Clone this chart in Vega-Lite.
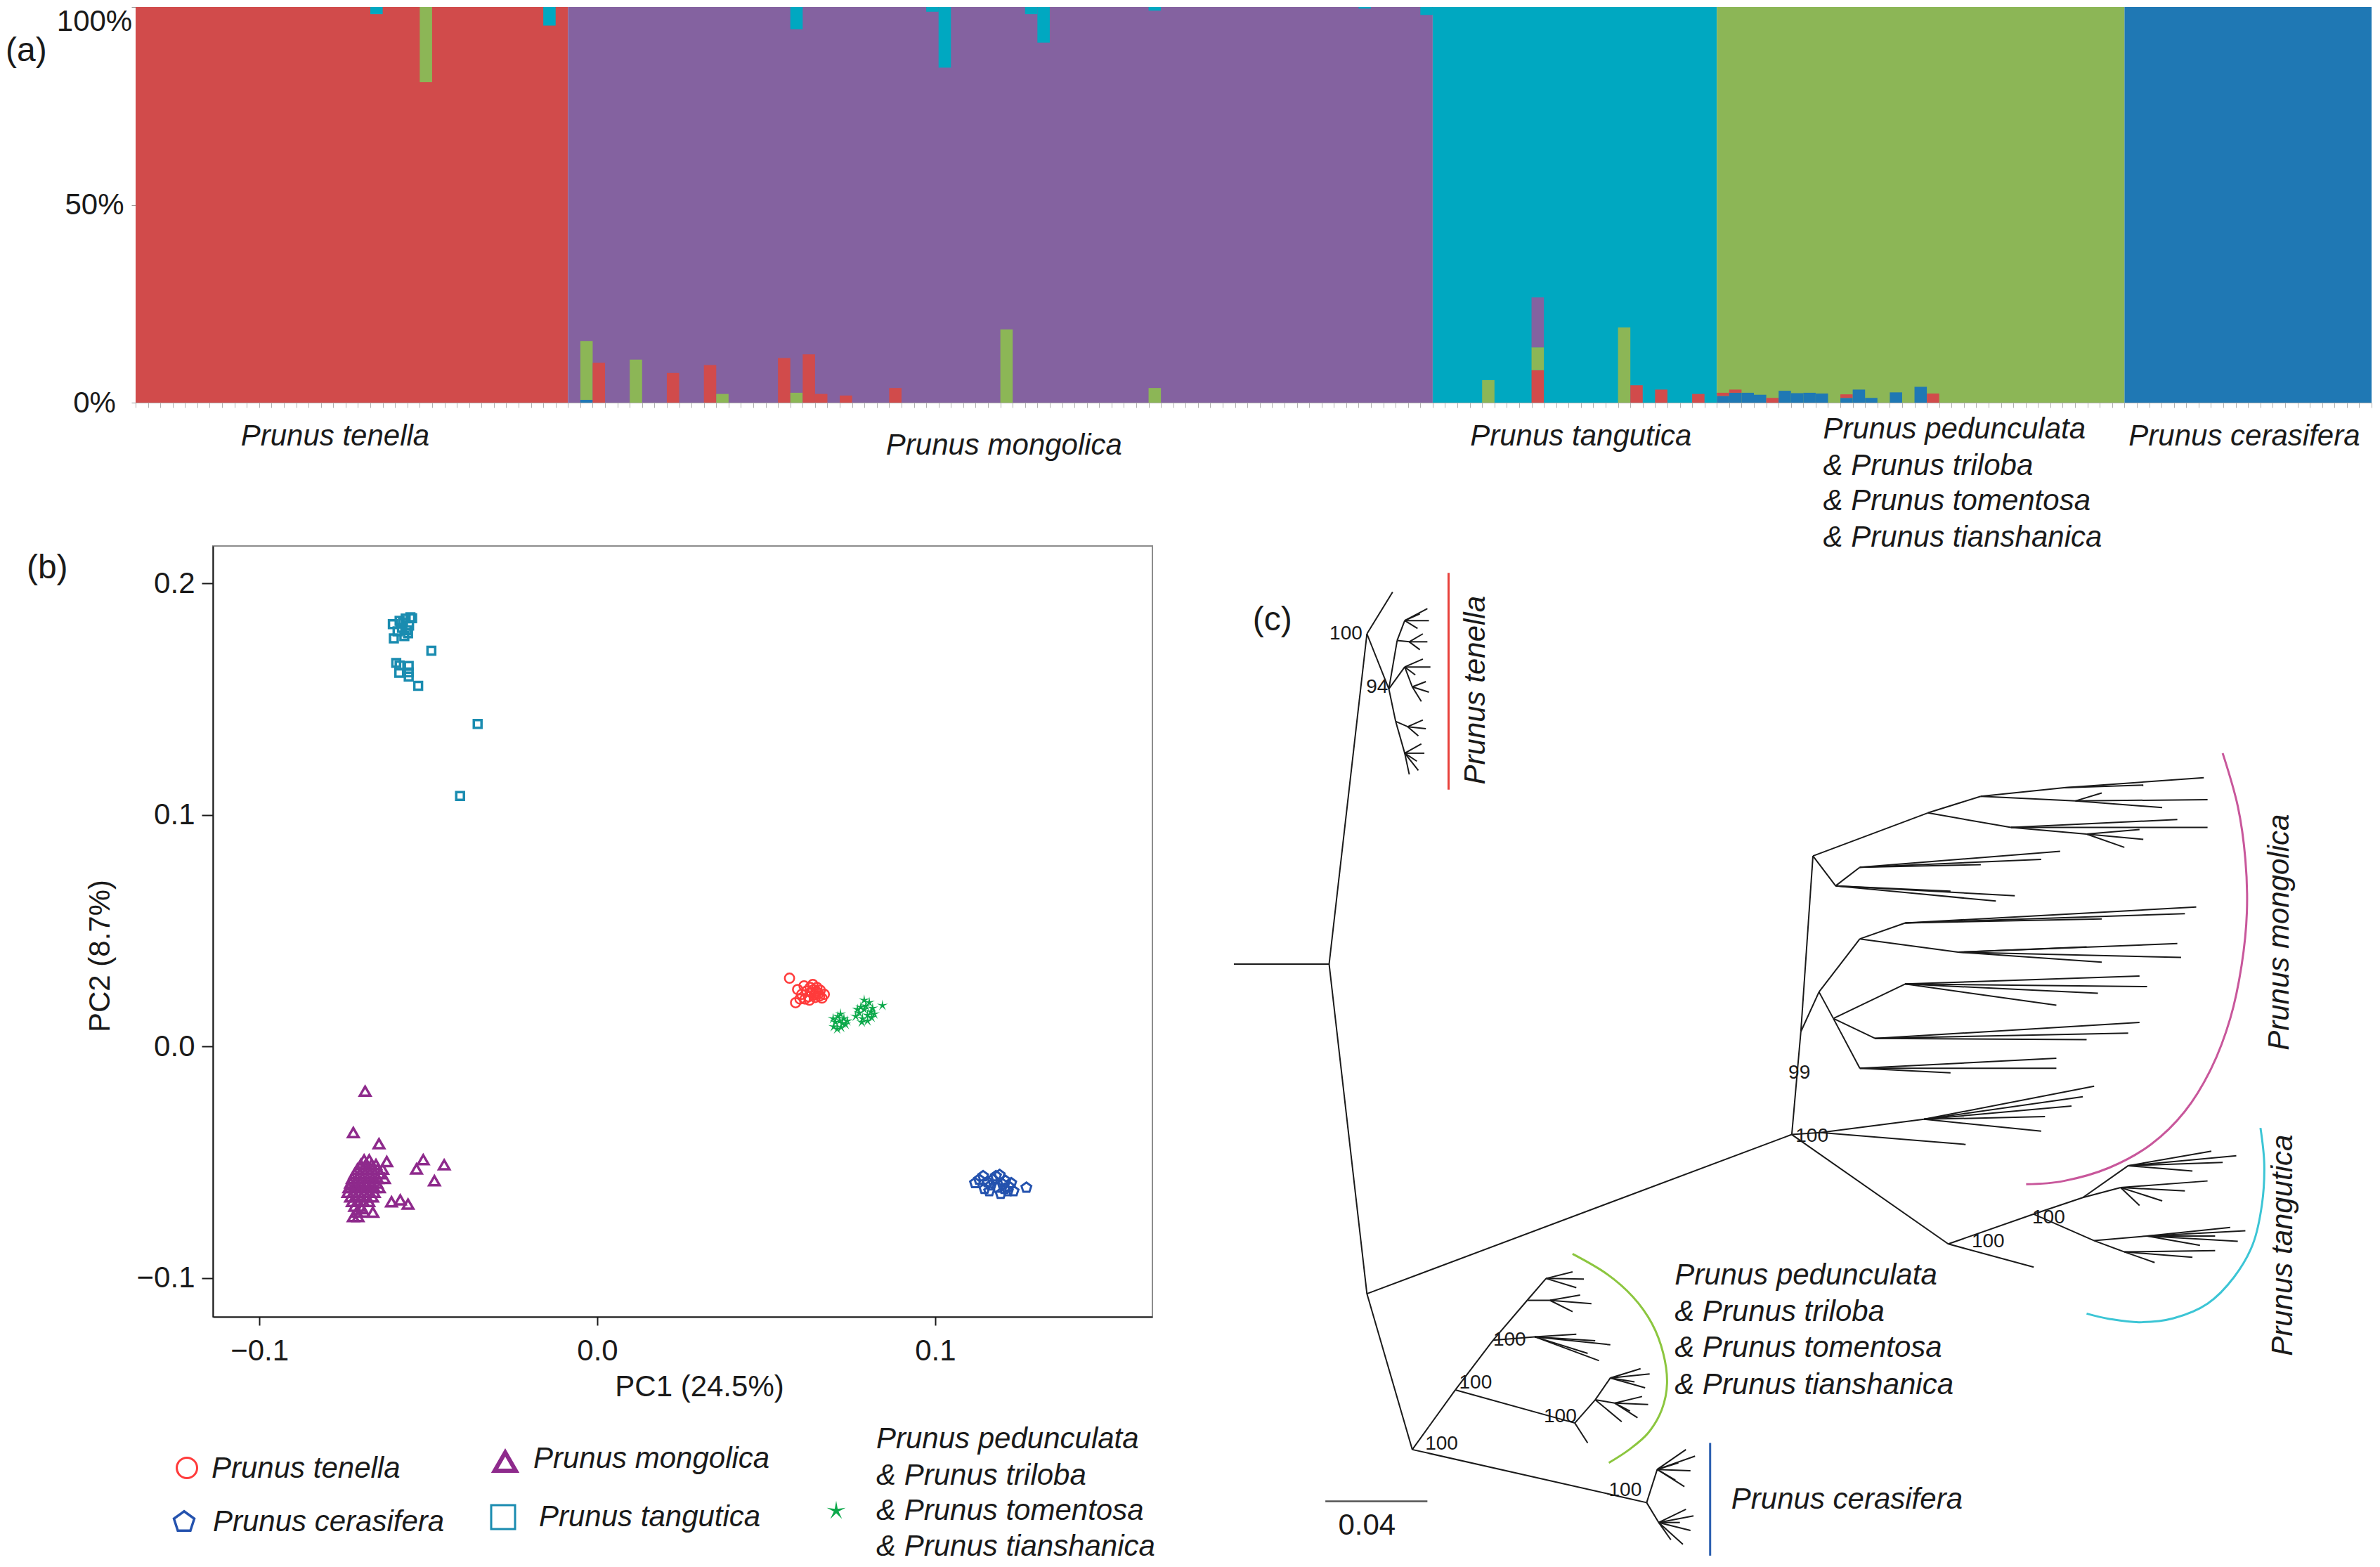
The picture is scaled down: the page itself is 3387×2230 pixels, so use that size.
{
"$schema": "https://vega.github.io/schema/vega-lite/v6.json",
"background": "white",
"padding": {"left": 8, "top": 9, "right": 0, "bottom": 0},
"config": {
  "font": "Liberation Sans",
  "view": {"stroke": null},
  "axis": {"grid": false, "titleFontWeight": "normal", "labelColor": "#1a1a1a", "titleColor": "#1a1a1a", "labelFont": "Liberation Sans", "titleFont": "Liberation Sans"},
  "text": {"color": "#1a1a1a"}
},
"datasets": {
  "structure": [
    {"start":0,"end":35,"lo":0,"hi":1,"cluster":"K1"},
    {"start":35,"end":105,"lo":0,"hi":1,"cluster":"K2"},
    {"start":105,"end":128,"lo":0,"hi":1,"cluster":"K3"},
    {"start":128,"end":161,"lo":0,"hi":1,"cluster":"K4"},
    {"start":161,"end":181,"lo":0,"hi":1,"cluster":"K5"},
    {"start":19,"end":20,"lo":0.982,"hi":1,"cluster":"K3"},
    {"start":23,"end":24,"lo":0.81,"hi":1,"cluster":"K4"},
    {"start":33,"end":34,"lo":0.953,"hi":1,"cluster":"K3"},
    {"start":36,"end":37,"lo":0,"hi":0.007,"cluster":"K5"},
    {"start":36,"end":37,"lo":0.007,"hi":0.156,"cluster":"K4"},
    {"start":37,"end":38,"lo":0,"hi":0.101,"cluster":"K1"},
    {"start":40,"end":41,"lo":0,"hi":0.109,"cluster":"K4"},
    {"start":43,"end":44,"lo":0,"hi":0.075,"cluster":"K1"},
    {"start":46,"end":47,"lo":0,"hi":0.095,"cluster":"K1"},
    {"start":47,"end":48,"lo":0,"hi":0.022,"cluster":"K4"},
    {"start":52,"end":53,"lo":0,"hi":0.113,"cluster":"K1"},
    {"start":53,"end":54,"lo":0,"hi":0.025,"cluster":"K4"},
    {"start":53,"end":54,"lo":0.944,"hi":1,"cluster":"K3"},
    {"start":54,"end":55,"lo":0,"hi":0.122,"cluster":"K1"},
    {"start":55,"end":56,"lo":0,"hi":0.022,"cluster":"K1"},
    {"start":57,"end":58,"lo":0,"hi":0.018,"cluster":"K1"},
    {"start":61,"end":62,"lo":0,"hi":0.037,"cluster":"K1"},
    {"start":64,"end":65,"lo":0.988,"hi":1,"cluster":"K3"},
    {"start":65,"end":66,"lo":0.847,"hi":1,"cluster":"K3"},
    {"start":70,"end":71,"lo":0,"hi":0.185,"cluster":"K4"},
    {"start":72,"end":73,"lo":0.982,"hi":1,"cluster":"K3"},
    {"start":73,"end":74,"lo":0.91,"hi":1,"cluster":"K3"},
    {"start":82,"end":83,"lo":0,"hi":0.037,"cluster":"K4"},
    {"start":82,"end":83,"lo":0.991,"hi":1,"cluster":"K3"},
    {"start":99,"end":100,"lo":0.996,"hi":1,"cluster":"K3"},
    {"start":104,"end":105,"lo":0.98,"hi":1,"cluster":"K3"},
    {"start":109,"end":110,"lo":0,"hi":0.057,"cluster":"K4"},
    {"start":113,"end":114,"lo":0,"hi":0.082,"cluster":"K1"},
    {"start":113,"end":114,"lo":0.082,"hi":0.14,"cluster":"K4"},
    {"start":113,"end":114,"lo":0.14,"hi":0.266,"cluster":"K2"},
    {"start":120,"end":121,"lo":0,"hi":0.19,"cluster":"K4"},
    {"start":121,"end":122,"lo":0,"hi":0.044,"cluster":"K1"},
    {"start":123,"end":124,"lo":0,"hi":0.033,"cluster":"K1"},
    {"start":126,"end":127,"lo":0,"hi":0.022,"cluster":"K1"},
    {"start":128,"end":129,"lo":0,"hi":0.017,"cluster":"K5"},
    {"start":128,"end":129,"lo":0.017,"hi":0.025,"cluster":"K1"},
    {"start":129,"end":130,"lo":0,"hi":0.025,"cluster":"K5"},
    {"start":129,"end":130,"lo":0.025,"hi":0.033,"cluster":"K1"},
    {"start":130,"end":131,"lo":0,"hi":0.025,"cluster":"K5"},
    {"start":131,"end":132,"lo":0,"hi":0.02,"cluster":"K5"},
    {"start":132,"end":133,"lo":0,"hi":0.012,"cluster":"K1"},
    {"start":133,"end":134,"lo":0,"hi":0.03,"cluster":"K5"},
    {"start":134,"end":135,"lo":0,"hi":0.024,"cluster":"K5"},
    {"start":135,"end":136,"lo":0,"hi":0.025,"cluster":"K5"},
    {"start":136,"end":137,"lo":0,"hi":0.023,"cluster":"K5"},
    {"start":138,"end":139,"lo":0,"hi":0.012,"cluster":"K5"},
    {"start":138,"end":139,"lo":0.012,"hi":0.021,"cluster":"K1"},
    {"start":139,"end":140,"lo":0,"hi":0.033,"cluster":"K5"},
    {"start":140,"end":141,"lo":0,"hi":0.012,"cluster":"K5"},
    {"start":142,"end":143,"lo":0,"hi":0.026,"cluster":"K5"},
    {"start":144,"end":145,"lo":0,"hi":0.04,"cluster":"K5"},
    {"start":145,"end":146,"lo":0,"hi":0.023,"cluster":"K1"}
  ],
  "slab": [
    {"t":"Prunus tenella","start":16.15,"lo":-0.0853,"kind":"c"},
    {"t":"Prunus mongolica","start":70.3,"lo":-0.1083,"kind":"c"},
    {"t":"Prunus tangutica","start":117.0,"lo":-0.0853,"kind":"c"},
    {"t":"Prunus cerasifera","start":170.7,"lo":-0.0853,"kind":"c"},
    {"t":"Prunus pedunculata","start":136.6,"lo":-0.0675,"kind":"l"},
    {"t":"& Prunus triloba","start":136.6,"lo":-0.1599,"kind":"l"},
    {"t":"& Prunus tomentosa","start":136.6,"lo":-0.2487,"kind":"l"},
    {"t":"& Prunus tianshanica","start":136.6,"lo":-0.3410,"kind":"l"},
    {"t":"(a)","start":-10.52,"lo":0.888,"kind":"p"}
  ],
  "pca": [
    {"sp":"tan","pc1":-0.0553,"pc2":0.1854},{"sp":"tan","pc1":-0.0567,"pc2":0.1849},{"sp":"tan","pc1":-0.0585,"pc2":0.1839},
    {"sp":"tan","pc1":-0.0605,"pc2":0.1824},{"sp":"tan","pc1":-0.0557,"pc2":0.1818},{"sp":"tan","pc1":-0.0578,"pc2":0.1808},
    {"sp":"tan","pc1":-0.0564,"pc2":0.1798},{"sp":"tan","pc1":-0.0591,"pc2":0.1793},{"sp":"tan","pc1":-0.0571,"pc2":0.1773},
    {"sp":"tan","pc1":-0.0602,"pc2":0.1763},{"sp":"tan","pc1":-0.0491,"pc2":0.1710},{"sp":"tan","pc1":-0.0595,"pc2":0.1657},
    {"sp":"tan","pc1":-0.0585,"pc2":0.1646},{"sp":"tan","pc1":-0.0558,"pc2":0.1644},{"sp":"tan","pc1":-0.0558,"pc2":0.1616},
    {"sp":"tan","pc1":-0.0586,"pc2":0.1614},{"sp":"tan","pc1":-0.0558,"pc2":0.1598},{"sp":"tan","pc1":-0.0530,"pc2":0.1558},
    {"sp":"tan","pc1":-0.0354,"pc2":0.1393},{"sp":"tan","pc1":-0.0406,"pc2":0.1082},{"sp":"tan","pc1":-0.0575,"pc2":0.1830},
    {"sp":"tan","pc1":-0.0560,"pc2":0.1785},{"sp":"tan","pc1":-0.0548,"pc2":0.1850},
    {"sp":"mon","pc1":-0.0687,"pc2":-0.0193},{"sp":"mon","pc1":-0.0722,"pc2":-0.0372},{"sp":"mon","pc1":-0.0646,"pc2":-0.0420},
    {"sp":"mon","pc1":-0.0623,"pc2":-0.0497},{"sp":"mon","pc1":-0.0515,"pc2":-0.0489},{"sp":"mon","pc1":-0.0535,"pc2":-0.0529},
    {"sp":"mon","pc1":-0.0453,"pc2":-0.0511},{"sp":"mon","pc1":-0.0482,"pc2":-0.0580},{"sp":"mon","pc1":-0.0609,"pc2":-0.0671},
    {"sp":"mon","pc1":-0.0583,"pc2":-0.0663},{"sp":"mon","pc1":-0.0560,"pc2":-0.0681},{"sp":"mon","pc1":-0.0697,"pc2":-0.0701},
    {"sp":"mon","pc1":-0.0664,"pc2":-0.0716},
    {"sp":"mon","pc1":-0.0690,"pc2":-0.049},{"sp":"mon","pc1":-0.0675,"pc2":-0.049},
    {"sp":"mon","pc1":-0.0700,"pc2":-0.051},{"sp":"mon","pc1":-0.0685,"pc2":-0.051},{"sp":"mon","pc1":-0.0668,"pc2":-0.051},{"sp":"mon","pc1":-0.0655,"pc2":-0.051},
    {"sp":"mon","pc1":-0.0710,"pc2":-0.053},{"sp":"mon","pc1":-0.0695,"pc2":-0.053},{"sp":"mon","pc1":-0.0680,"pc2":-0.053},{"sp":"mon","pc1":-0.0665,"pc2":-0.053},{"sp":"mon","pc1":-0.0650,"pc2":-0.053},{"sp":"mon","pc1":-0.0635,"pc2":-0.053},
    {"sp":"mon","pc1":-0.0718,"pc2":-0.055},{"sp":"mon","pc1":-0.0703,"pc2":-0.055},{"sp":"mon","pc1":-0.0688,"pc2":-0.055},{"sp":"mon","pc1":-0.0673,"pc2":-0.055},{"sp":"mon","pc1":-0.0658,"pc2":-0.055},{"sp":"mon","pc1":-0.0642,"pc2":-0.055},
    {"sp":"mon","pc1":-0.0725,"pc2":-0.057},{"sp":"mon","pc1":-0.0710,"pc2":-0.057},{"sp":"mon","pc1":-0.0695,"pc2":-0.057},{"sp":"mon","pc1":-0.0680,"pc2":-0.057},{"sp":"mon","pc1":-0.0664,"pc2":-0.057},{"sp":"mon","pc1":-0.0650,"pc2":-0.057},{"sp":"mon","pc1":-0.0630,"pc2":-0.057},
    {"sp":"mon","pc1":-0.0730,"pc2":-0.059},{"sp":"mon","pc1":-0.0715,"pc2":-0.059},{"sp":"mon","pc1":-0.0700,"pc2":-0.059},{"sp":"mon","pc1":-0.0684,"pc2":-0.059},{"sp":"mon","pc1":-0.0668,"pc2":-0.059},{"sp":"mon","pc1":-0.0652,"pc2":-0.059},
    {"sp":"mon","pc1":-0.0735,"pc2":-0.061},{"sp":"mon","pc1":-0.0720,"pc2":-0.061},{"sp":"mon","pc1":-0.0705,"pc2":-0.061},{"sp":"mon","pc1":-0.0690,"pc2":-0.061},{"sp":"mon","pc1":-0.0674,"pc2":-0.061},{"sp":"mon","pc1":-0.0660,"pc2":-0.061},{"sp":"mon","pc1":-0.0645,"pc2":-0.061},
    {"sp":"mon","pc1":-0.0738,"pc2":-0.063},{"sp":"mon","pc1":-0.0722,"pc2":-0.063},{"sp":"mon","pc1":-0.0706,"pc2":-0.063},{"sp":"mon","pc1":-0.0690,"pc2":-0.063},{"sp":"mon","pc1":-0.0675,"pc2":-0.063},{"sp":"mon","pc1":-0.0660,"pc2":-0.063},
    {"sp":"mon","pc1":-0.0730,"pc2":-0.065},{"sp":"mon","pc1":-0.0714,"pc2":-0.065},{"sp":"mon","pc1":-0.0698,"pc2":-0.065},{"sp":"mon","pc1":-0.0682,"pc2":-0.065},{"sp":"mon","pc1":-0.0665,"pc2":-0.065},
    {"sp":"mon","pc1":-0.0725,"pc2":-0.067},{"sp":"mon","pc1":-0.0708,"pc2":-0.067},{"sp":"mon","pc1":-0.0692,"pc2":-0.067},{"sp":"mon","pc1":-0.0676,"pc2":-0.067},
    {"sp":"mon","pc1":-0.0718,"pc2":-0.069},{"sp":"mon","pc1":-0.0700,"pc2":-0.069},
    {"sp":"mon","pc1":-0.0712,"pc2":-0.0715},{"sp":"mon","pc1":-0.0690,"pc2":-0.0715},
    {"sp":"mon","pc1":-0.0722,"pc2":-0.0735},{"sp":"mon","pc1":-0.0708,"pc2":-0.0735},
    {"sp":"ten","pc1":0.0569,"pc2":0.0295},{"sp":"ten","pc1":0.0587,"pc2":0.0189},{"sp":"ten","pc1":0.0593,"pc2":0.0246},
    {"sp":"ten","pc1":0.0605,"pc2":0.0225},{"sp":"ten","pc1":0.0612,"pc2":0.0262},{"sp":"ten","pc1":0.0620,"pc2":0.0240},
    {"sp":"ten","pc1":0.0625,"pc2":0.0215},{"sp":"ten","pc1":0.0630,"pc2":0.0255},{"sp":"ten","pc1":0.0635,"pc2":0.0232},
    {"sp":"ten","pc1":0.0640,"pc2":0.0245},{"sp":"ten","pc1":0.0642,"pc2":0.0222},{"sp":"ten","pc1":0.0648,"pc2":0.0238},
    {"sp":"ten","pc1":0.0650,"pc2":0.0255},{"sp":"ten","pc1":0.0655,"pc2":0.0228},{"sp":"ten","pc1":0.0660,"pc2":0.0243},
    {"sp":"ten","pc1":0.0665,"pc2":0.0209},{"sp":"ten","pc1":0.0672,"pc2":0.0225},{"sp":"ten","pc1":0.0628,"pc2":0.0200},
    {"sp":"ten","pc1":0.0615,"pc2":0.0205},{"sp":"ten","pc1":0.0645,"pc2":0.0212},{"sp":"ten","pc1":0.0658,"pc2":0.0218},
    {"sp":"ten","pc1":0.0638,"pc2":0.0268},{"sp":"ten","pc1":0.0600,"pc2":0.0205},
    {"sp":"ped","pc1":0.0700,"pc2":0.0085},{"sp":"ped","pc1":0.0710,"pc2":0.0075},{"sp":"ped","pc1":0.0722,"pc2":0.0082},
    {"sp":"ped","pc1":0.0735,"pc2":0.0095},{"sp":"ped","pc1":0.0705,"pc2":0.0105},{"sp":"ped","pc1":0.0718,"pc2":0.0112},
    {"sp":"ped","pc1":0.0730,"pc2":0.0120},{"sp":"ped","pc1":0.0712,"pc2":0.0130},{"sp":"ped","pc1":0.0725,"pc2":0.0100},
    {"sp":"ped","pc1":0.0740,"pc2":0.0110},{"sp":"ped","pc1":0.0698,"pc2":0.0120},{"sp":"ped","pc1":0.0720,"pc2":0.0140},
    {"sp":"ped","pc1":0.0765,"pc2":0.0130},{"sp":"ped","pc1":0.0775,"pc2":0.0145},{"sp":"ped","pc1":0.0785,"pc2":0.0120},
    {"sp":"ped","pc1":0.0790,"pc2":0.0160},{"sp":"ped","pc1":0.0800,"pc2":0.0135},{"sp":"ped","pc1":0.0810,"pc2":0.0150},
    {"sp":"ped","pc1":0.0795,"pc2":0.0175},{"sp":"ped","pc1":0.0805,"pc2":0.0190},{"sp":"ped","pc1":0.0780,"pc2":0.0170},
    {"sp":"ped","pc1":0.0815,"pc2":0.0165},{"sp":"ped","pc1":0.0820,"pc2":0.0140},{"sp":"ped","pc1":0.0770,"pc2":0.0160},
    {"sp":"ped","pc1":0.0800,"pc2":0.0110},{"sp":"ped","pc1":0.0790,"pc2":0.0200},{"sp":"ped","pc1":0.0812,"pc2":0.0125},
    {"sp":"ped","pc1":0.0783,"pc2":0.0105},{"sp":"ped","pc1":0.0844,"pc2":0.0177},
    {"sp":"cer","pc1":0.1118,"pc2":-0.0590},{"sp":"cer","pc1":0.1130,"pc2":-0.0575},{"sp":"cer","pc1":0.1142,"pc2":-0.0560},
    {"sp":"cer","pc1":0.1146,"pc2":-0.0615},{"sp":"cer","pc1":0.1155,"pc2":-0.0585},{"sp":"cer","pc1":0.1165,"pc2":-0.0600},
    {"sp":"cer","pc1":0.1170,"pc2":-0.0575},{"sp":"cer","pc1":0.1180,"pc2":-0.0560},{"sp":"cer","pc1":0.1191,"pc2":-0.0555},
    {"sp":"cer","pc1":0.1185,"pc2":-0.0610},{"sp":"cer","pc1":0.1194,"pc2":-0.0636},{"sp":"cer","pc1":0.1200,"pc2":-0.0595},
    {"sp":"cer","pc1":0.1208,"pc2":-0.0580},{"sp":"cer","pc1":0.1215,"pc2":-0.0625},{"sp":"cer","pc1":0.1218,"pc2":-0.0605},
    {"sp":"cer","pc1":0.1225,"pc2":-0.0590},{"sp":"cer","pc1":0.1232,"pc2":-0.0625},{"sp":"cer","pc1":0.1270,"pc2":-0.0610},
    {"sp":"cer","pc1":0.1160,"pc2":-0.0625},{"sp":"cer","pc1":0.1205,"pc2":-0.0615}
  ],
  "plab": [{"t":"(b)","pc1":-0.16888,"pc2":0.2064}],
  "legsym": [
    {"sp":"ten","lx":266,"ly":2089},
    {"sp":"cer","lx":262,"ly":2166},
    {"sp":"mon","lx":719,"ly":2080},
    {"sp":"tan","lx":716,"ly":2159},
    {"sp":"ped","lx":1190,"ly":2150}
  ],
  "legtxt": [
    {"t":"Prunus tenella","lx":301,"ly":2090},
    {"t":"Prunus cerasifera","lx":303,"ly":2166},
    {"t":"Prunus mongolica","lx":759,"ly":2076},
    {"t":"Prunus tangutica","lx":767,"ly":2159},
    {"t":"Prunus pedunculata","lx":1247,"ly":2048},
    {"t":"& Prunus triloba","lx":1247,"ly":2100},
    {"t":"& Prunus tomentosa","lx":1247,"ly":2150},
    {"t":"& Prunus tianshanica","lx":1247,"ly":2201}
  ],
  "tree": [
    {"tx":52,"ty":658,"tx2":178,"ty2":658},
    {"tx":178,"ty":658,"tx2":228,"ty2":160},
    {"tx":178,"ty":658,"tx2":228,"ty2":1155},
    {"tx":228,"ty":1155,"tx2":790,"ty2":915},
    {"tx":228,"ty":1155,"tx2":288,"ty2":1390},
    {"tx":228,"ty":160,"tx2":262,"ty2":97},
    {"tx":228,"ty":160,"tx2":257,"ty2":243},
    {"tx":257,"ty":243,"tx2":268,"ty2":170},
    {"tx":268,"ty":170,"tx2":278,"ty2":140},
    {"tx":278,"ty":140,"tx2":308,"ty2":122},
    {"tx":278,"ty":140,"tx2":298,"ty2":130},
    {"tx":278,"ty":140,"tx2":310,"ty2":140},
    {"tx":278,"ty":140,"tx2":295,"ty2":152},
    {"tx":268,"ty":170,"tx2":284,"ty2":172},
    {"tx":284,"ty":172,"tx2":302,"ty2":160},
    {"tx":284,"ty":172,"tx2":308,"ty2":172},
    {"tx":284,"ty":172,"tx2":298,"ty2":184},
    {"tx":257,"ty":243,"tx2":278,"ty2":210},
    {"tx":278,"ty":210,"tx2":302,"ty2":198},
    {"tx":278,"ty":210,"tx2":312,"ty2":210},
    {"tx":278,"ty":210,"tx2":292,"ty2":222},
    {"tx":278,"ty":210,"tx2":288,"ty2":240},
    {"tx":288,"ty":240,"tx2":306,"ty2":232},
    {"tx":288,"ty":240,"tx2":310,"ty2":248},
    {"tx":288,"ty":240,"tx2":300,"ty2":262},
    {"tx":257,"ty":243,"tx2":266,"ty2":292},
    {"tx":266,"ty":292,"tx2":282,"ty2":300},
    {"tx":282,"ty":300,"tx2":302,"ty2":290},
    {"tx":282,"ty":300,"tx2":306,"ty2":303},
    {"tx":282,"ty":300,"tx2":296,"ty2":314},
    {"tx":266,"ty":292,"tx2":278,"ty2":340},
    {"tx":278,"ty":340,"tx2":300,"ty2":326},
    {"tx":278,"ty":340,"tx2":304,"ty2":340},
    {"tx":278,"ty":340,"tx2":294,"ty2":352},
    {"tx":278,"ty":340,"tx2":296,"ty2":366},
    {"tx":278,"ty":340,"tx2":284,"ty2":372},
    {"tx":790,"ty":915,"tx2":802,"ty2":760},
    {"tx":802,"ty":760,"tx2":818,"ty2":495},
    {"tx":802,"ty":760,"tx2":826,"ty2":700},
    {"tx":790,"ty":915,"tx2":828,"ty2":912},
    {"tx":818,"ty":495,"tx2":848,"ty2":540},
    {"tx":848,"ty":540,"tx2":880,"ty2":512},
    {"tx":880,"ty":512,"tx2":1145,"ty2":488},
    {"tx":880,"ty":512,"tx2":1120,"ty2":500},
    {"tx":880,"ty":512,"tx2":1040,"ty2":508},
    {"tx":848,"ty":540,"tx2":1085,"ty2":555},
    {"tx":848,"ty":540,"tx2":1000,"ty2":548},
    {"tx":848,"ty":540,"tx2":1060,"ty2":563},
    {"tx":818,"ty":495,"tx2":970,"ty2":430},
    {"tx":970,"ty":430,"tx2":1040,"ty2":405},
    {"tx":1040,"ty":405,"tx2":1150,"ty2":392},
    {"tx":1150,"ty":392,"tx2":1335,"ty2":377},
    {"tx":1150,"ty":392,"tx2":1255,"ty2":388},
    {"tx":1040,"ty":405,"tx2":1165,"ty2":412},
    {"tx":1165,"ty":412,"tx2":1340,"ty2":410},
    {"tx":1165,"ty":412,"tx2":1280,"ty2":422},
    {"tx":1165,"ty":412,"tx2":1200,"ty2":400},
    {"tx":970,"ty":430,"tx2":1080,"ty2":452},
    {"tx":1080,"ty":452,"tx2":1300,"ty2":440},
    {"tx":1080,"ty":452,"tx2":1340,"ty2":452},
    {"tx":1080,"ty":452,"tx2":1180,"ty2":462},
    {"tx":1180,"ty":462,"tx2":1255,"ty2":470},
    {"tx":1180,"ty":462,"tx2":1230,"ty2":482},
    {"tx":1180,"ty":462,"tx2":1250,"ty2":455},
    {"tx":826,"ty":700,"tx2":880,"ty2":620},
    {"tx":880,"ty":620,"tx2":940,"ty2":596},
    {"tx":940,"ty":596,"tx2":1325,"ty2":572},
    {"tx":940,"ty":596,"tx2":1310,"ty2":582},
    {"tx":940,"ty":596,"tx2":1200,"ty2":590},
    {"tx":880,"ty":620,"tx2":1010,"ty2":640},
    {"tx":1010,"ty":640,"tx2":1300,"ty2":627},
    {"tx":1010,"ty":640,"tx2":1305,"ty2":648},
    {"tx":1010,"ty":640,"tx2":1180,"ty2":632},
    {"tx":1010,"ty":640,"tx2":1200,"ty2":655},
    {"tx":826,"ty":700,"tx2":845,"ty2":740},
    {"tx":845,"ty":740,"tx2":940,"ty2":688},
    {"tx":940,"ty":688,"tx2":1250,"ty2":676},
    {"tx":940,"ty":688,"tx2":1260,"ty2":692},
    {"tx":940,"ty":688,"tx2":1140,"ty2":720},
    {"tx":940,"ty":688,"tx2":1195,"ty2":702},
    {"tx":845,"ty":740,"tx2":900,"ty2":770},
    {"tx":900,"ty":770,"tx2":1250,"ty2":746},
    {"tx":900,"ty":770,"tx2":1235,"ty2":762},
    {"tx":900,"ty":770,"tx2":1180,"ty2":772},
    {"tx":845,"ty":740,"tx2":880,"ty2":815},
    {"tx":880,"ty":815,"tx2":1140,"ty2":800},
    {"tx":880,"ty":815,"tx2":1140,"ty2":815},
    {"tx":880,"ty":815,"tx2":1000,"ty2":822},
    {"tx":828,"ty":912,"tx2":965,"ty2":892},
    {"tx":965,"ty":892,"tx2":1190,"ty2":842},
    {"tx":965,"ty":892,"tx2":1175,"ty2":858},
    {"tx":965,"ty":892,"tx2":1160,"ty2":872},
    {"tx":965,"ty":892,"tx2":1125,"ty2":888},
    {"tx":965,"ty":892,"tx2":1120,"ty2":910},
    {"tx":828,"ty":912,"tx2":1020,"ty2":930},
    {"tx":790,"ty":915,"tx2":997,"ty2":1080},
    {"tx":997,"ty":1080,"tx2":1110,"ty2":1115},
    {"tx":997,"ty":1080,"tx2":1110,"ty2":1035},
    {"tx":1110,"ty":1035,"tx2":1175,"ty2":1010},
    {"tx":1175,"ty":1010,"tx2":1235,"ty2":962},
    {"tx":1235,"ty":962,"tx2":1345,"ty2":940},
    {"tx":1235,"ty":962,"tx2":1378,"ty2":947},
    {"tx":1235,"ty":962,"tx2":1360,"ty2":957},
    {"tx":1235,"ty":962,"tx2":1320,"ty2":970},
    {"tx":1175,"ty":1010,"tx2":1225,"ty2":995},
    {"tx":1225,"ty":995,"tx2":1340,"ty2":985},
    {"tx":1225,"ty":995,"tx2":1310,"ty2":1000},
    {"tx":1225,"ty":995,"tx2":1280,"ty2":1015},
    {"tx":1225,"ty":995,"tx2":1250,"ty2":1022},
    {"tx":1110,"ty":1035,"tx2":1190,"ty2":1075},
    {"tx":1190,"ty":1075,"tx2":1260,"ty2":1068},
    {"tx":1260,"ty":1068,"tx2":1370,"ty2":1055},
    {"tx":1260,"ty":1068,"tx2":1390,"ty2":1060},
    {"tx":1260,"ty":1068,"tx2":1350,"ty2":1068},
    {"tx":1260,"ty":1068,"tx2":1380,"ty2":1076},
    {"tx":1260,"ty":1068,"tx2":1330,"ty2":1082},
    {"tx":1190,"ty":1075,"tx2":1230,"ty2":1092},
    {"tx":1230,"ty":1092,"tx2":1350,"ty2":1090},
    {"tx":1230,"ty":1092,"tx2":1320,"ty2":1100},
    {"tx":1230,"ty":1092,"tx2":1270,"ty2":1108},
    {"tx":288,"ty":1390,"tx2":345,"ty2":1300},
    {"tx":345,"ty":1300,"tx2":395,"ty2":1225},
    {"tx":395,"ty":1225,"tx2":440,"ty2":1165},
    {"tx":440,"ty":1165,"tx2":465,"ty2":1132},
    {"tx":465,"ty":1132,"tx2":500,"ty2":1122},
    {"tx":465,"ty":1132,"tx2":515,"ty2":1133},
    {"tx":465,"ty":1132,"tx2":505,"ty2":1146},
    {"tx":440,"ty":1165,"tx2":470,"ty2":1165},
    {"tx":470,"ty":1165,"tx2":510,"ty2":1157},
    {"tx":470,"ty":1165,"tx2":525,"ty2":1170},
    {"tx":470,"ty":1165,"tx2":500,"ty2":1182},
    {"tx":395,"ty":1225,"tx2":450,"ty2":1220},
    {"tx":450,"ty":1220,"tx2":505,"ty2":1216},
    {"tx":450,"ty":1220,"tx2":530,"ty2":1226},
    {"tx":450,"ty":1220,"tx2":550,"ty2":1232},
    {"tx":450,"ty":1220,"tx2":520,"ty2":1245},
    {"tx":450,"ty":1220,"tx2":535,"ty2":1256},
    {"tx":345,"ty":1300,"tx2":503,"ty2":1350},
    {"tx":503,"ty":1350,"tx2":520,"ty2":1380},
    {"tx":503,"ty":1350,"tx2":530,"ty2":1315},
    {"tx":530,"ty":1315,"tx2":550,"ty2":1282},
    {"tx":550,"ty":1282,"tx2":590,"ty2":1268},
    {"tx":550,"ty":1282,"tx2":602,"ty2":1276},
    {"tx":550,"ty":1282,"tx2":582,"ty2":1288},
    {"tx":550,"ty":1282,"tx2":596,"ty2":1297},
    {"tx":530,"ty":1315,"tx2":556,"ty2":1320},
    {"tx":556,"ty":1320,"tx2":592,"ty2":1310},
    {"tx":556,"ty":1320,"tx2":600,"ty2":1322},
    {"tx":556,"ty":1320,"tx2":576,"ty2":1332},
    {"tx":556,"ty":1320,"tx2":586,"ty2":1342},
    {"tx":530,"ty":1315,"tx2":565,"ty2":1348},
    {"tx":288,"ty":1390,"tx2":598,"ty2":1470},
    {"tx":598,"ty":1470,"tx2":612,"ty2":1420},
    {"tx":612,"ty":1420,"tx2":650,"ty2":1390},
    {"tx":612,"ty":1420,"tx2":662,"ty2":1400},
    {"tx":612,"ty":1420,"tx2":640,"ty2":1410},
    {"tx":612,"ty":1420,"tx2":656,"ty2":1422},
    {"tx":612,"ty":1420,"tx2":636,"ty2":1436},
    {"tx":612,"ty":1420,"tx2":648,"ty2":1446},
    {"tx":598,"ty":1470,"tx2":614,"ty2":1500},
    {"tx":614,"ty":1500,"tx2":650,"ty2":1480},
    {"tx":614,"ty":1500,"tx2":660,"ty2":1490},
    {"tx":614,"ty":1500,"tx2":642,"ty2":1500},
    {"tx":614,"ty":1500,"tx2":656,"ty2":1512},
    {"tx":614,"ty":1500,"tx2":630,"ty2":1526},
    {"tx":614,"ty":1500,"tx2":646,"ty2":1533}
  ],
  "arcs": [
    {"clade":"mon","o":0,"tx":1360,"ty":340},{"clade":"mon","o":1,"tx":1380,"ty":420},{"clade":"mon","o":2,"tx":1390,"ty":500},
    {"clade":"mon","o":3,"tx":1392,"ty":580},{"clade":"mon","o":4,"tx":1385,"ty":660},{"clade":"mon","o":5,"tx":1370,"ty":740},
    {"clade":"mon","o":6,"tx":1345,"ty":815},{"clade":"mon","o":7,"tx":1310,"ty":880},{"clade":"mon","o":8,"tx":1265,"ty":930},
    {"clade":"mon","o":9,"tx":1210,"ty":965},{"clade":"mon","o":10,"tx":1150,"ty":985},{"clade":"mon","o":11,"tx":1100,"ty":990},
    {"clade":"tan","o":0,"tx":1410,"ty":905},{"clade":"tan","o":1,"tx":1415,"ty":960},{"clade":"tan","o":2,"tx":1412,"ty":1020},
    {"clade":"tan","o":3,"tx":1400,"ty":1080},{"clade":"tan","o":4,"tx":1375,"ty":1130},{"clade":"tan","o":5,"tx":1340,"ty":1170},
    {"clade":"tan","o":6,"tx":1295,"ty":1192},{"clade":"tan","o":7,"tx":1250,"ty":1198},{"clade":"tan","o":8,"tx":1210,"ty":1193},
    {"clade":"tan","o":9,"tx":1180,"ty":1185},
    {"clade":"ped","o":0,"tx":500,"ty":1095},{"clade":"ped","o":1,"tx":545,"ty":1125},{"clade":"ped","o":2,"tx":580,"ty":1160},
    {"clade":"ped","o":3,"tx":605,"ty":1200},{"clade":"ped","o":4,"tx":620,"ty":1245},{"clade":"ped","o":5,"tx":625,"ty":1290},
    {"clade":"ped","o":6,"tx":618,"ty":1330},{"clade":"ped","o":7,"tx":600,"ty":1365},{"clade":"ped","o":8,"tx":575,"ty":1390},
    {"clade":"ped","o":9,"tx":548,"ty":1410}
  ],
  "cbars": [
    {"clade":"ten","tx":336,"ty":68,"tx2":336,"ty2":395},
    {"clade":"cer","tx":682,"ty":1380,"tx2":682,"ty2":1550}
  ],
  "sbar": [{"tx":173,"ty":1468,"tx2":308,"ty2":1468}],
  "ttxt": [
    {"t":"Prunus tenella","tx":372,"ty":245,"kind":"rot"},
    {"t":"Prunus mongolica","tx":1435,"ty":610,"kind":"rot"},
    {"t":"Prunus tangutica","tx":1440,"ty":1082,"kind":"rot"},
    {"t":"Prunus pedunculata","tx":635,"ty":1127,"kind":"lab"},
    {"t":"& Prunus triloba","tx":635,"ty":1182,"kind":"lab"},
    {"t":"& Prunus tomentosa","tx":635,"ty":1237,"kind":"lab"},
    {"t":"& Prunus tianshanica","tx":635,"ty":1293,"kind":"lab"},
    {"t":"Prunus cerasifera","tx":710,"ty":1465,"kind":"lab"},
    {"t":"100","tx":222,"ty":160,"kind":"bsr"},
    {"t":"94","tx":256,"ty":240,"kind":"bsr"},
    {"t":"99","tx":800,"ty":822,"kind":"bsc"},
    {"t":"100","tx":795,"ty":918,"kind":"bsl"},
    {"t":"100","tx":1108,"ty":1040,"kind":"bsl"},
    {"t":"100","tx":1028,"ty":1077,"kind":"bsl"},
    {"t":"100","tx":395,"ty":1225,"kind":"bsl"},
    {"t":"100","tx":350,"ty":1290,"kind":"bsl"},
    {"t":"100","tx":462,"ty":1340,"kind":"bsl"},
    {"t":"100","tx":305,"ty":1382,"kind":"bsl"},
    {"t":"100","tx":548,"ty":1452,"kind":"bsl"},
    {"t":"0.04","tx":228,"ty":1505,"kind":"scale"},
    {"t":"(c)","tx":103,"ty":140,"kind":"panel"}
  ]
},
"columns": 1,
"spacing": -10,
"align": "none",
"resolve": {"scale": {"x": "independent", "y": "independent", "color": "independent", "shape": "independent"}},
"concat": [
  {
    "width": 3072, "height": 563,
    "layer": [
      {"data": {"name": "structure"}, "mark": {"type": "rect"},
       "encoding": {
         "x": {"field": "start", "type": "quantitative", "scale": {"domain": [0,181], "range": [-110, 3072], "nice": false, "zero": false},
               "axis": {"tickCount": 181, "labels": false, "title": null, "tickSize": 7, "tickColor": "#b0b0b0", "domainColor": "#b0b0b0"}},
         "x2": {"field": "end"},
         "y": {"field": "lo", "type": "quantitative", "scale": {"domain": [0,1], "nice": false, "zero": false},
               "axis": {"values": [0,0.5,1], "format": ".0%", "title": null, "offset": 110, "labelFontSize": 42, "labelAlign": "center", "labelPadding": 53, "tickSize": 6, "tickColor": "#999999", "domain": false,
                        "labelBaseline": {"condition": {"test": "datum.value == 1", "value": "top"}, "value": "middle"}}},
         "y2": {"field": "hi"},
         "color": {"field": "cluster", "type": "nominal", "scale": {"domain": ["K1","K2","K3","K4","K5"], "range": ["#d14b4b","#8462a0","#00a8c1","#8cb656","#1f78b4"]}, "legend": null}
       }},
      {"data": {"name": "slab"}, "transform": [{"filter": "datum.kind == 'c'"}],
       "mark": {"type": "text", "fontSize": 42, "fontStyle": "italic", "align": "center", "baseline": "middle"},
       "encoding": {"x": {"field": "start", "type": "quantitative", "scale": {"domain": [0,181], "range": [-110, 3072], "nice": false, "zero": false}},
                    "y": {"field": "lo", "type": "quantitative", "scale": {"domain": [0,1], "nice": false, "zero": false}},
                    "text": {"field": "t"}}},
      {"data": {"name": "slab"}, "transform": [{"filter": "datum.kind == 'l'"}],
       "mark": {"type": "text", "fontSize": 42, "fontStyle": "italic", "align": "left", "baseline": "middle"},
       "encoding": {"x": {"field": "start", "type": "quantitative", "scale": {"domain": [0,181], "range": [-110, 3072], "nice": false, "zero": false}},
                    "y": {"field": "lo", "type": "quantitative", "scale": {"domain": [0,1], "nice": false, "zero": false}},
                    "text": {"field": "t"}}},
      {"data": {"name": "slab"}, "transform": [{"filter": "datum.kind == 'p'"}],
       "mark": {"type": "text", "fontSize": 48, "align": "left", "baseline": "middle"},
       "encoding": {"x": {"field": "start", "type": "quantitative", "scale": {"domain": [0,181], "range": [-110, 3072], "nice": false, "zero": false}},
                    "y": {"field": "lo", "type": "quantitative", "scale": {"domain": [0,1], "nice": false, "zero": false}},
                    "text": {"field": "t"}}}
    ]
  },
  {
    "spacing": 0,
    "resolve": {"scale": {"x": "independent", "y": "independent", "color": "independent", "shape": "independent"}},
    "hconcat": [
      {
        "columns": 1,
        "spacing": 15,
        "align": "none",
        "resolve": {"scale": {"x": "independent", "y": "independent", "color": "independent", "shape": "independent"}},
        "concat": [
          {
            "width": 1337, "height": 1097,
            "view": {"stroke": "#8c8c8c", "strokeWidth": 2},
            "encoding": {
              "x": {"field": "pc1", "type": "quantitative", "scale": {"domain": [-0.11375, 0.1643], "nice": false, "zero": false},
                    "axis": {"values": [-0.1, 0, 0.1], "format": ".1f", "title": "PC1 (24.5%)", "titleFontSize": 42, "labelFontSize": 42, "tickSize": 12, "tickWidth": 2, "tickColor": "#1a1a1a", "domainColor": "#1a1a1a", "domainWidth": 2, "labelPadding": 16, "titlePadding": 10, "titleX": 692}},
              "y": {"field": "pc2", "type": "quantitative", "scale": {"domain": [-0.1168, 0.2162], "nice": false, "zero": false},
                    "axis": {"values": [-0.1, 0, 0.1, 0.2], "format": ".1f", "title": "PC2 (8.7%)", "titleFontSize": 42, "labelFontSize": 42, "tickSize": 16, "tickWidth": 2, "tickColor": "#1a1a1a", "domainColor": "#1a1a1a", "domainWidth": 2, "labelPadding": 10, "titlePadding": 30, "titleY": 583}}
            },
            "layer": [
              {"data": {"name": "pca"}, "transform": [{"filter": "datum.sp == 'ten'"}],
               "mark": {"type": "point", "filled": false, "size": 182, "strokeWidth": 2.5, "opacity": 1},
               "encoding": {"color": {"field": "sp", "type": "nominal", "scale": {"domain": ["ten","mon","tan","cer","ped"], "range": ["#ff3b3b","#8e2a8c","#1a8cb0","#2452ae","#0ba84a"]}, "legend": null},
                            "shape": {"field": "sp", "type": "nominal", "scale": {"domain": ["ten","mon","tan","cer","ped"], "range": ["circle","triangle-up","square","M0,-1L0.951,-0.309L0.588,0.809L-0.588,0.809L-0.951,-0.309Z","M0,-1L0.147,-0.202L0.951,-0.309L0.238,0.077L0.588,0.809L0,0.25L-0.588,0.809L-0.238,0.077L-0.951,-0.309L-0.147,-0.202Z"]}, "legend": null}}},
              {"data": {"name": "pca"}, "transform": [{"filter": "datum.sp == 'cer'"}],
               "mark": {"type": "point", "filled": false, "size": 216, "strokeWidth": 3, "opacity": 1},
               "encoding": {"color": {"field": "sp", "type": "nominal", "legend": null}, "shape": {"field": "sp", "type": "nominal", "legend": null}}},
              {"data": {"name": "pca"}, "transform": [{"filter": "datum.sp == 'tan'"}],
               "mark": {"type": "point", "filled": false, "size": 120, "strokeWidth": 3.5, "opacity": 1},
               "encoding": {"color": {"field": "sp", "type": "nominal", "legend": null}, "shape": {"field": "sp", "type": "nominal", "legend": null}}},
              {"data": {"name": "pca"}, "transform": [{"filter": "datum.sp == 'mon'"}],
               "mark": {"type": "point", "filled": false, "size": 220, "strokeWidth": 3.5, "opacity": 1},
               "encoding": {"color": {"field": "sp", "type": "nominal", "legend": null}, "shape": {"field": "sp", "type": "nominal", "legend": null}}},
              {"data": {"name": "pca"}, "transform": [{"filter": "datum.sp == 'ped'"}],
               "mark": {"type": "point", "filled": true, "size": 280, "opacity": 1},
               "encoding": {"color": {"field": "sp", "type": "nominal", "legend": null}, "shape": {"field": "sp", "type": "nominal", "legend": null}}},
              {"data": {"name": "plab"},
               "mark": {"type": "text", "fontSize": 48, "align": "left", "baseline": "middle"},
               "encoding": {"text": {"field": "t"}}}
            ]
          },
          {
            "width": 1397, "height": 214,
            "encoding": {
              "x": {"field": "lx", "type": "quantitative", "scale": {"domain": [303, 1700], "nice": false, "zero": false}, "axis": null},
              "y": {"field": "ly", "type": "quantitative", "scale": {"domain": [2010, 2224], "nice": false, "zero": false, "reverse": true}, "axis": null}
            },
            "layer": [
              {"data": {"name": "legsym"}, "transform": [{"filter": "datum.sp == 'ten'"}],
               "mark": {"type": "point", "filled": false, "size": 841, "strokeWidth": 3, "opacity": 1},
               "encoding": {"color": {"field": "sp", "type": "nominal", "scale": {"domain": ["ten","mon","tan","cer","ped"], "range": ["#ff3b3b","#8e2a8c","#1a8cb0","#2452ae","#0ba84a"]}, "legend": null},
                            "shape": {"field": "sp", "type": "nominal", "scale": {"domain": ["ten","mon","tan","cer","ped"], "range": ["circle","triangle-up","square","M0,-1L0.951,-0.309L0.588,0.809L-0.588,0.809L-0.951,-0.309Z","M0,-1L0.147,-0.202L0.951,-0.309L0.238,0.077L0.588,0.809L0,0.25L-0.588,0.809L-0.238,0.077L-0.951,-0.309L-0.147,-0.202Z"]}, "legend": null}}},
              {"data": {"name": "legsym"}, "transform": [{"filter": "datum.sp == 'cer'"}],
               "mark": {"type": "point", "filled": false, "size": 930, "strokeWidth": 3.5, "opacity": 1},
               "encoding": {"color": {"field": "sp", "type": "nominal", "legend": null}, "shape": {"field": "sp", "type": "nominal", "legend": null}}},
              {"data": {"name": "legsym"}, "transform": [{"filter": "datum.sp == 'tan'"}],
               "mark": {"type": "point", "filled": false, "size": 1156, "strokeWidth": 3, "opacity": 1},
               "encoding": {"color": {"field": "sp", "type": "nominal", "legend": null}, "shape": {"field": "sp", "type": "nominal", "legend": null}}},
              {"data": {"name": "legsym"}, "transform": [{"filter": "datum.sp == 'mon'"}],
               "mark": {"type": "point", "filled": false, "size": 900, "strokeWidth": 6, "opacity": 1},
               "encoding": {"color": {"field": "sp", "type": "nominal", "legend": null}, "shape": {"field": "sp", "type": "nominal", "legend": null}}},
              {"data": {"name": "legsym"}, "transform": [{"filter": "datum.sp == 'ped'"}],
               "mark": {"type": "point", "filled": true, "size": 800, "opacity": 1},
               "encoding": {"color": {"field": "sp", "type": "nominal", "legend": null}, "shape": {"field": "sp", "type": "nominal", "legend": null}}},
              {"data": {"name": "legtxt"},
               "mark": {"type": "text", "fontSize": 42, "fontStyle": "italic", "align": "left", "baseline": "middle"},
               "encoding": {"text": {"field": "t"}}}
            ]
          }
        ]
      },
      {
        "width": 1687, "height": 1448,
        "encoding": {
          "x": {"field": "tx", "type": "quantitative", "scale": {"domain": [0, 1568.1], "nice": false, "zero": false}, "axis": null},
          "y": {"field": "ty", "type": "quantitative", "scale": {"domain": [27.55, 1561.8], "nice": false, "zero": false, "reverse": true}, "axis": null}
        },
        "layer": [
          {"data": {"name": "tree"}, "mark": {"type": "rule", "strokeWidth": 2, "color": "#1a1a1a"},
           "encoding": {"x2": {"field": "tx2"}, "y2": {"field": "ty2"}}},
          {"data": {"name": "arcs"}, "mark": {"type": "line", "strokeWidth": 3, "interpolate": "cardinal"},
           "encoding": {"color": {"field": "clade", "type": "nominal", "scale": {"domain": ["ten","mon","tan","ped","cer"], "range": ["#e8413c","#c8579b","#3cc5d5","#8cc63f","#2b5fb0"]}, "legend": null},
                        "order": {"field": "o", "type": "quantitative"}}},
          {"data": {"name": "cbars"}, "mark": {"type": "rule", "strokeWidth": 3},
           "encoding": {"x2": {"field": "tx2"}, "y2": {"field": "ty2"},
                        "color": {"field": "clade", "type": "nominal", "scale": {"domain": ["ten","mon","tan","ped","cer"], "range": ["#e8413c","#c8579b","#3cc5d5","#8cc63f","#2b5fb0"]}, "legend": null}}},
          {"data": {"name": "sbar"}, "mark": {"type": "rule", "strokeWidth": 2.5, "color": "#555555"},
           "encoding": {"x2": {"field": "tx2"}, "y2": {"field": "ty2"}}},
          {"data": {"name": "ttxt"}, "transform": [{"filter": "datum.kind == 'rot'"}],
           "mark": {"type": "text", "angle": 270, "fontSize": 42, "fontStyle": "italic", "align": "center", "baseline": "middle"},
           "encoding": {"text": {"field": "t"}}},
          {"data": {"name": "ttxt"}, "transform": [{"filter": "datum.kind == 'lab'"}],
           "mark": {"type": "text", "fontSize": 42, "fontStyle": "italic", "align": "left", "baseline": "middle"},
           "encoding": {"text": {"field": "t"}}},
          {"data": {"name": "ttxt"}, "transform": [{"filter": "datum.kind == 'bsr'"}],
           "mark": {"type": "text", "fontSize": 28, "align": "right", "baseline": "middle"},
           "encoding": {"text": {"field": "t"}}},
          {"data": {"name": "ttxt"}, "transform": [{"filter": "datum.kind == 'bsl'"}],
           "mark": {"type": "text", "fontSize": 28, "align": "left", "baseline": "middle"},
           "encoding": {"text": {"field": "t"}}},
          {"data": {"name": "ttxt"}, "transform": [{"filter": "datum.kind == 'bsc'"}],
           "mark": {"type": "text", "fontSize": 28, "align": "center", "baseline": "middle"},
           "encoding": {"text": {"field": "t"}}},
          {"data": {"name": "ttxt"}, "transform": [{"filter": "datum.kind == 'scale'"}],
           "mark": {"type": "text", "fontSize": 42, "align": "center", "baseline": "middle"},
           "encoding": {"text": {"field": "t"}}},
          {"data": {"name": "ttxt"}, "transform": [{"filter": "datum.kind == 'panel'"}],
           "mark": {"type": "text", "fontSize": 48, "align": "center", "baseline": "middle"},
           "encoding": {"text": {"field": "t"}}}
        ]
      }
    ]
  }
]
}
